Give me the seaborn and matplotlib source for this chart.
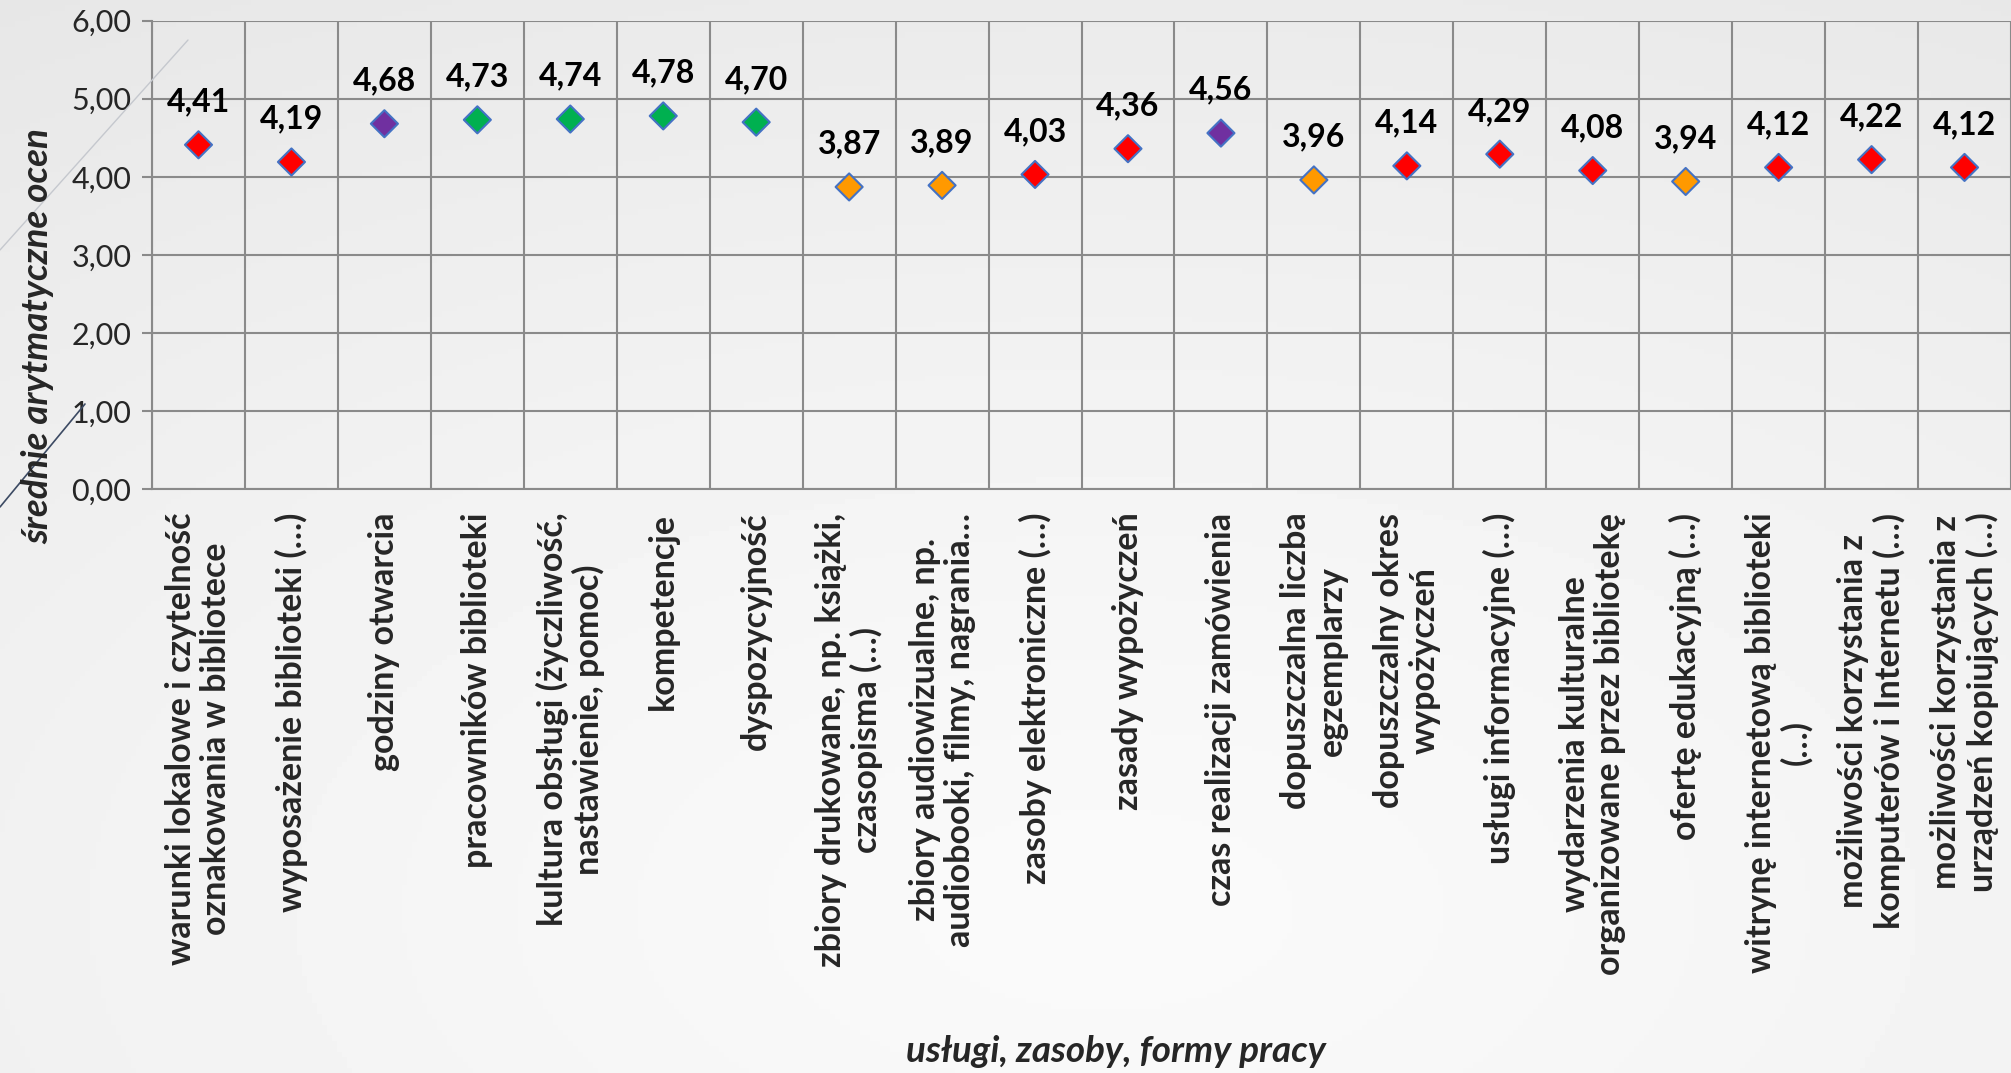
import numpy as np
import pandas as pd
import matplotlib.pyplot as plt
import seaborn as sns
from matplotlib.lines import Line2D
from matplotlib.ticker import FuncFormatter

# dane
kategorie = [
    "warunki lokalowe i czytelność\noznakowania w bibliotece",
    "wyposażenie biblioteki (…)",
    "godziny otwarcia",
    "pracowników biblioteki",
    "kultura obsługi (życzliwość,\nnastawienie, pomoc)",
    "kompetencje",
    "dyspozycyjność",
    "zbiory drukowane, np. książki,\nczasopisma (…)",
    "zbiory audiowizualne, np.\naudiobooki, filmy, nagrania…",
    "zasoby elektroniczne (…)",
    "zasady wypożyczeń",
    "czas realizacji zamówienia",
    "dopuszczalna liczba\negzemplarzy",
    "dopuszczalny okres\nwypożyczeń",
    "usługi informacyjne (…)",
    "wydarzenia kulturalne\norganizowane przez bibliotekę",
    "ofertę edukacyjną (…)",
    "witrynę internetową biblioteki\n(…)",
    "możliwości korzystania z\nkomputerów i Internetu (…)",
    "możliwości korzystania z\nurządzeń kopiujących (…)",
]
srednie = [4.41, 4.19, 4.68, 4.73, 4.74, 4.78, 4.70, 3.87, 3.89, 4.03,
           4.36, 4.56, 3.96, 4.14, 4.29, 4.08, 3.94, 4.12, 4.22, 4.12]
grupy = ["czerwony", "czerwony", "fioletowy", "zielony", "zielony", "zielony",
         "zielony", "pomaranczowy", "pomaranczowy", "czerwony", "czerwony",
         "fioletowy", "pomaranczowy", "czerwony", "czerwony", "czerwony",
         "pomaranczowy", "czerwony", "czerwony", "czerwony"]
kolory = {"czerwony": "#ff0000", "fioletowy": "#7030a0",
          "zielony": "#00b050", "pomaranczowy": "#ff9900"}

df = pd.DataFrame({"kategoria": kategorie, "srednia": srednie, "grupa": grupy})

sns.set_style("white")
plt.rcParams['font.family'] = ['Lato', 'DejaVu Sans']

fig = plt.figure(figsize=(20.11, 10.73), dpi=100)

# tlo z delikatnym gradientem
bg = fig.add_axes([0, 0, 1, 1], zorder=-10)
yy, xx = np.mgrid[0:1:200j, 0:1:400j]
r = np.sqrt(((xx - 0.55) / 0.9) ** 2 + ((yy - 0.85) / 0.9) ** 2)
bg.imshow(0.98 - 0.065 * r ** 1.3, cmap="gray", vmin=0, vmax=1,
          extent=[0, 1, 0, 1], aspect="auto", origin="upper")
bg.axis("off")
fig.add_artist(Line2D([0, 188 / 2011], [1 - 250 / 1073, 1 - 40 / 1073],
                      transform=fig.transFigure, color="#c5c8ce", lw=1))
fig.add_artist(Line2D([0, 85 / 2011], [1 - 507 / 1073, 1 - 404 / 1073],
                      transform=fig.transFigure, color="#3c4a63", lw=1.2))

ax = fig.add_axes([0.0756, 0.5443, 0.9244, 0.4364])
ax.patch.set_alpha(0)

sns.scatterplot(data=df, x="kategoria", y="srednia", hue="grupa", palette=kolory,
                marker="D", s=190, edgecolor="#4472c4", linewidth=1.5,
                legend=False, ax=ax, zorder=3)

for i, v in enumerate(srednie):
    ax.annotate(f"{v:.2f}".replace(".", ","), (i, v), xytext=(0, 24),
                textcoords="offset points", ha="center", va="baseline",
                fontsize=23, fontweight="bold", color="black")

ax.set_xlim(-0.5, len(kategorie) - 0.5)
ax.set_ylim(0, 6)
ax.set_yticks(range(7))
ax.yaxis.set_major_formatter(FuncFormatter(lambda v, p: f"{v:.2f}".replace(".", ",")))
ax.set_xticks(np.arange(-0.5, len(kategorie), 1), minor=True)
ax.set_xticks(range(len(kategorie)))
ax.set_xticklabels(kategorie, rotation=90, ha="center", va="top",
                   multialignment="center", fontsize=24.5, fontweight="bold",
                   linespacing=1.12)

grid_c = "#8a8a8a"
ax.grid(axis="y", which="major", color=grid_c, lw=1.5)
ax.grid(axis="x", which="minor", color=grid_c, lw=1.5)
ax.grid(axis="x", which="major", visible=False)
ax.tick_params(axis="x", which="major", length=0, pad=17)
ax.tick_params(axis="x", which="minor", length=9, width=1.5, color=grid_c)
ax.tick_params(axis="y", length=7, width=1.5, color=grid_c, labelsize=22, pad=8, left=True)
for s in ["top", "right"]:
    ax.spines[s].set_visible(False)
for s in ["left", "bottom"]:
    ax.spines[s].set_color(grid_c)
    ax.spines[s].set_linewidth(1.5)
ax.set_xlabel("")
ax.set_ylabel("")

fig.text(38 / 2011, 1 - 336 / 1073, "średnie arytmatyczne ocen", rotation=90,
         ha="center", va="center", fontsize=26.5, fontweight="bold", fontstyle="italic")
fig.text(1116 / 2011, 1 - 1052 / 1073, "usługi, zasoby, formy pracy",
         ha="center", va="center", fontsize=26.5, fontweight="bold", fontstyle="italic")

fig.savefig("out.png", dpi=100)
